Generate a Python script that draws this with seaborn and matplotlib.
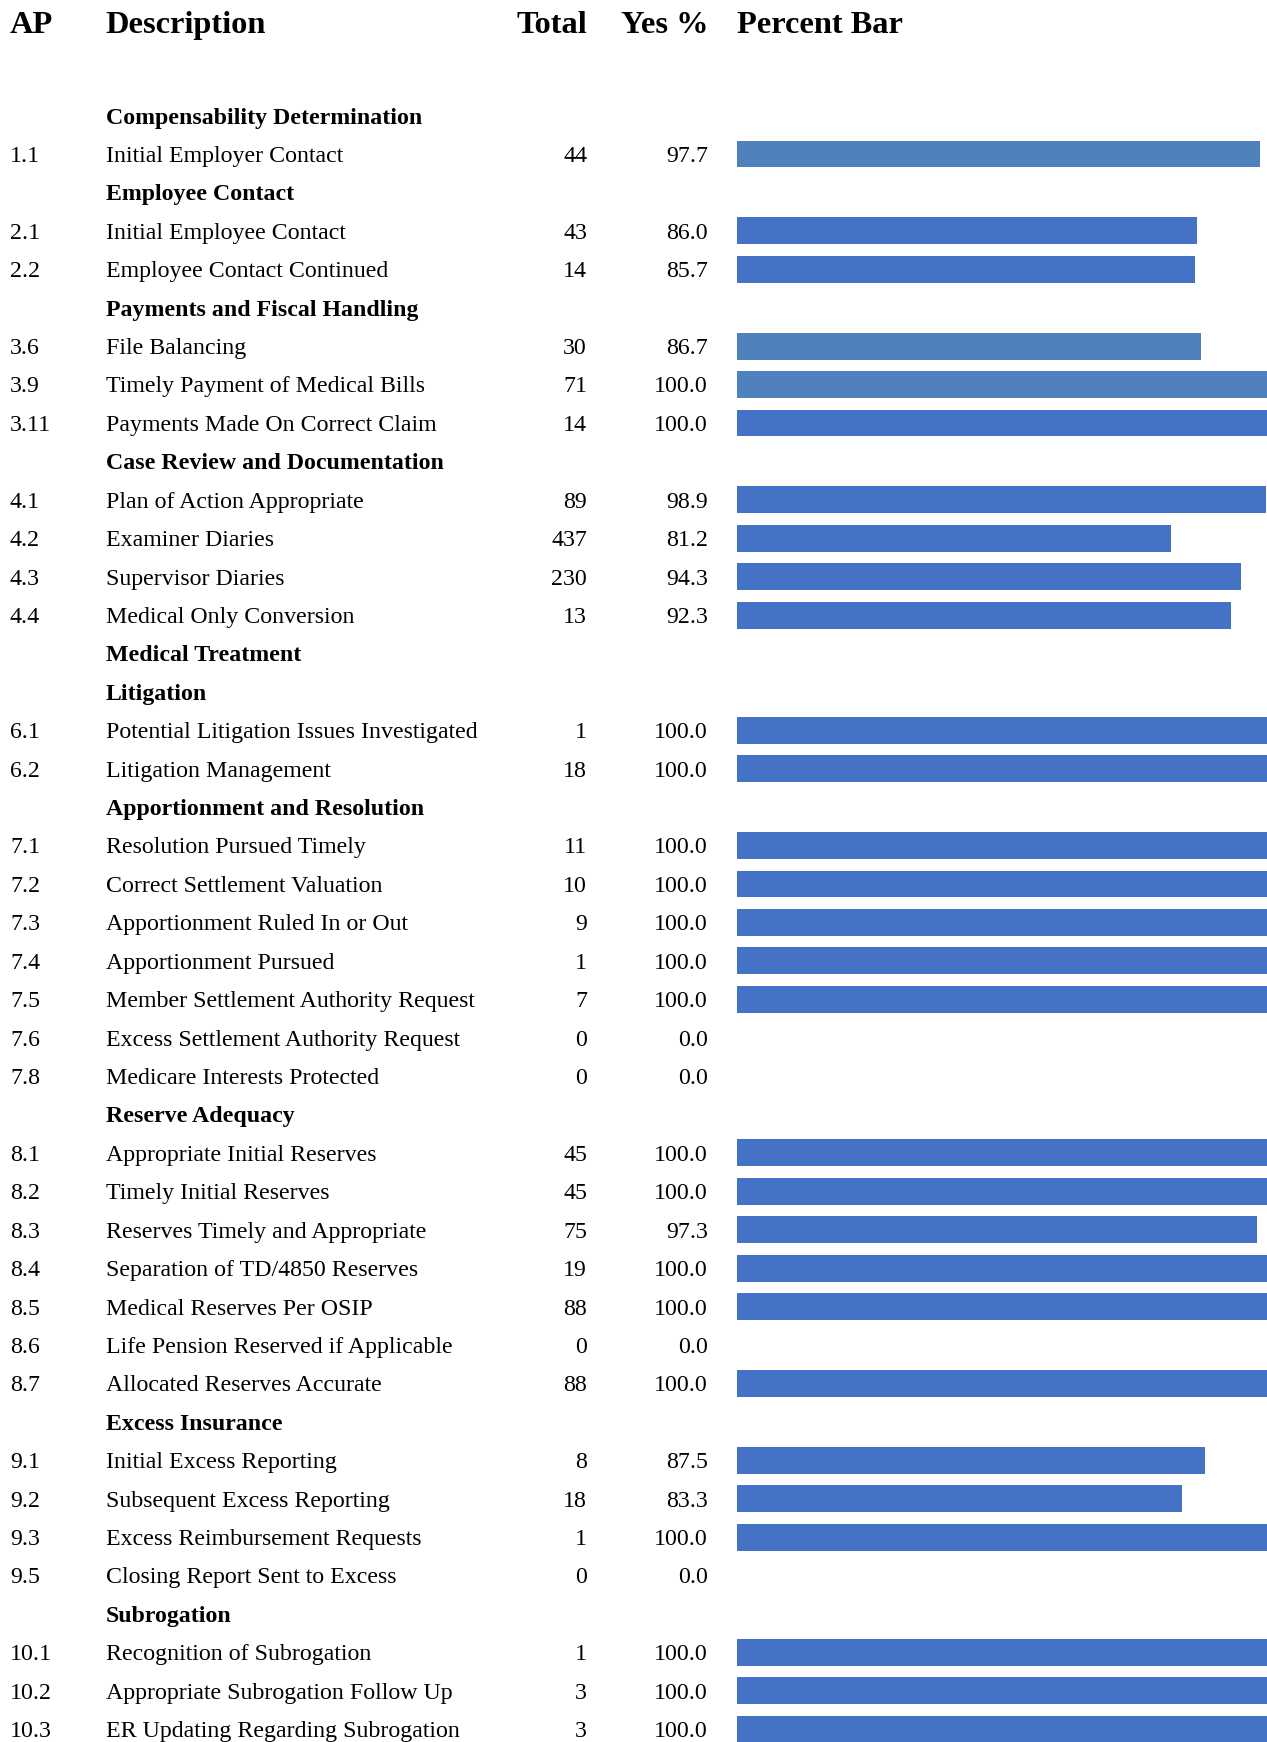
import matplotlib
matplotlib.use("Agg")
import matplotlib.pyplot as plt
import matplotlib.transforms as mtransforms
import seaborn as sns
import pandas as pd
import numpy as np

# ---------------- data ----------------
ap_codes = ["", "1.1", "", "2.1", "2.2", "", "3.6", "3.9", "3.11", "",
            "4.1", "4.2", "4.3", "4.4", "", "", "6.1", "6.2", "",
            "7.1", "7.2", "7.3", "7.4", "7.5", "7.6", "7.8", "",
            "8.1", "8.2", "8.3", "8.4", "8.5", "8.6", "8.7", "",
            "9.1", "9.2", "9.3", "9.5", "", "10.1", "10.2", "10.3"]
descriptions = [
    "Compensability Determination", "Initial Employer Contact",
    "Employee Contact", "Initial Employee Contact", "Employee Contact Continued",
    "Payments and Fiscal Handling", "File Balancing", "Timely Payment of Medical Bills",
    "Payments Made On Correct Claim",
    "Case Review and Documentation", "Plan of Action Appropriate", "Examiner Diaries",
    "Supervisor Diaries", "Medical Only Conversion",
    "Medical Treatment",
    "Litigation", "Potential Litigation Issues Investigated", "Litigation Management",
    "Apportionment and Resolution", "Resolution Pursued Timely", "Correct Settlement Valuation",
    "Apportionment Ruled In or Out", "Apportionment Pursued",
    "Member Settlement Authority Request", "Excess Settlement Authority Request",
    "Medicare Interests Protected",
    "Reserve Adequacy", "Appropriate Initial Reserves", "Timely Initial Reserves",
    "Reserves Timely and Appropriate", "Separation of TD/4850 Reserves",
    "Medical Reserves Per OSIP", "Life Pension Reserved if Applicable",
    "Allocated Reserves Accurate",
    "Excess Insurance", "Initial Excess Reporting", "Subsequent Excess Reporting",
    "Excess Reimbursement Requests", "Closing Report Sent to Excess",
    "Subrogation", "Recognition of Subrogation", "Appropriate Subrogation Follow Up",
    "ER Updating Regarding Subrogation"]
totals = [None, 44, None, 43, 14, None, 30, 71, 14, None,
          89, 437, 230, 13, None, None, 1, 18, None,
          11, 10, 9, 1, 7, 0, 0, None,
          45, 45, 75, 19, 88, 0, 88, None,
          8, 18, 1, 0, None, 1, 3, 3]
yes_pct = [None, 97.7, None, 86.0, 85.7, None, 86.7, 100.0, 100.0, None,
           98.9, 81.2, 94.3, 92.3, None, None, 100.0, 100.0, None,
           100.0, 100.0, 100.0, 100.0, 100.0, 0.0, 0.0, None,
           100.0, 100.0, 97.3, 100.0, 100.0, 0.0, 100.0, None,
           87.5, 83.3, 100.0, 0.0, None, 100.0, 100.0, 100.0]
bar_group = ["royal"] * len(ap_codes)
for code in ["1.1", "3.6", "3.9"]:
    bar_group[ap_codes.index(code)] = "steel"
headers = ["AP", "Description", "Total", "Yes %", "Percent Bar"]

palette = {"steel": "#4F81BD", "royal": "#4472C4"}

# ---------------- figure ----------------
W, H = 1267, 1742
DPI = 100
sns.set_theme(style="white")
plt.rcParams["font.family"] = ["Liberation Serif", "DejaVu Serif"]

fig = plt.figure(figsize=(W / DPI, H / DPI), dpi=DPI)

row_pitch = 38.42          # px between rows
first_row_y = 115.6        # px from top for row 0
n = len(ap_codes)
top_px = first_row_y - row_pitch / 2
ax_left = 737 / W
ax = fig.add_axes([ax_left, 0.0, 1.0 - ax_left, 1 - top_px / H])

row_ids = [f"r{i}" for i in range(n)]
df = pd.DataFrame({
    "row": row_ids,
    "pct": [v if v is not None else 0.0 for v in yes_pct],
    "grp": bar_group,
})
sns.barplot(data=df, y="row", x="pct", hue="grp", palette=palette, order=row_ids,
            orient="h", width=0.70, linewidth=0, legend=False, ax=ax, errorbar=None,
            saturation=1)

ax.set_xlim(0, 99.1)
rows_visible = (H - top_px) / row_pitch
ax.set_ylim(-0.5 + rows_visible, -0.5)
ax.axis("off")

trans = mtransforms.blended_transform_factory(fig.transFigure, ax.transData)

body_size = 17.2
head_size = 23.3
base_off = 0.206

x_ap = 10 / W
x_desc = 105.6 / W
x_total = 587 / W
x_yes = 708 / W
x_bar = 737 / W

# column headers
hy = -2.415 + 0.277
kw_h = dict(transform=trans, fontsize=head_size, fontweight="bold", va="baseline",
            clip_on=False, color="black")
ax.text(x_ap, hy, headers[0], ha="left", **kw_h)
ax.text(x_desc, hy, headers[1], ha="left", **kw_h)
ax.text(x_total, hy, headers[2], ha="right", **kw_h)
ax.text(x_yes, hy, headers[3], ha="right", **kw_h)
ax.text(x_bar, hy, headers[4], ha="left", **kw_h)

for i in range(n):
    y = i + base_off
    kw = dict(transform=trans, fontsize=body_size, va="baseline", clip_on=False,
              color="black")
    if ap_codes[i] == "":
        ax.text(x_desc, y, descriptions[i], ha="left", fontweight="bold", **kw)
        continue
    ax.text(x_ap, y, ap_codes[i], ha="left", **kw)
    ax.text(x_desc, y, descriptions[i], ha="left", **kw)
    ax.text(x_total, y, f"{totals[i]}", ha="right", **kw)
    ax.text(x_yes, y, f"{yes_pct[i]:.1f}", ha="right", **kw)

fig.savefig("out.png", dpi=DPI)
